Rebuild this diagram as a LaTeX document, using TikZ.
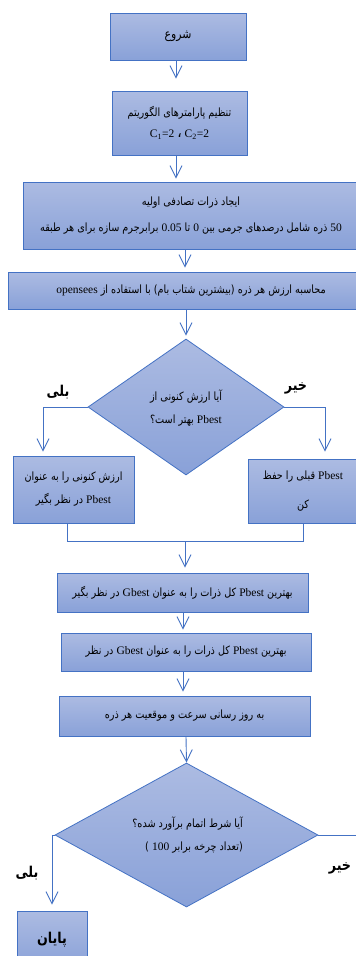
\documentclass[tikz,border=0pt]{standalone}
\usepackage{fontspec}
\setmainfont{Liberation Serif}
\newfontfamily\fa[Script=Arabic,FakeStretch=0.85,Scale=1.42]{DejaVu Sans}
\TeXXeTstate=1
\usetikzlibrary{shapes.geometric,arrows.meta,calc}
\definecolor{lineblue}{RGB}{68,114,196}
\definecolor{topc}{RGB}{172,187,226}
\definecolor{botc}{RGB}{137,161,216}
\newcommand{\fat}[1]{{\fa\beginR #1\endR}}
\newcommand{\latw}[1]{{\rmfamily\fontsize{11.5}{12}\selectfont #1}}
\tikzset{
  box/.style={draw=lineblue, line width=0.8pt, top color=topc, bottom color=botc,
    inner sep=0pt, align=center, font={\fontsize{8}{23}\selectfont}},
  dia/.style={box, shape=diamond},
  ln/.style={draw=lineblue, line width=0.9pt},
  arr/.style={ln, -{Straight Barb[length=12pt,width=12pt,line width=0.9pt]}},
  lbl/.style={font={\fontsize{10.5}{13}\selectfont\fa\bfseries}},
  txt/.style={align=center, inner sep=0pt, font={\fontsize{8}{23}\selectfont}}
}
\begin{document}
\begin{tikzpicture}[x=1pt,y=-1pt]
\fill[white] (0,0) rectangle (356,956);
\useasboundingbox (0,0) rectangle (356,956);
% x positions of vertical connectors
\coordinate (xa) at (176,0);
\coordinate (xb) at (185,0);
\coordinate (xc) at (183,0);
\coordinate (xd) at (186,0);
\coordinate (xy) at (43,0);
\coordinate (xn) at (325,0);
\coordinate (xe) at (52,0);
\coordinate (mL) at (67,541);
\coordinate (mR) at (303,541);
\coordinate (rt) at (362,835);

\node[box, minimum width=136pt, minimum height=47pt, font={\fontsize{9}{12}\selectfont}] (start) at (178,36.5) {\fat{شروع}};
\node[box, minimum width=135pt, minimum height=64pt, font={\fontsize{8}{21}\selectfont}] (params) at (179.5,123)
  {\fat{تنظیم پارامترهای الگوریتم}\\\latw{C\textsubscript{1}=2 {\fa ،} C\textsubscript{2}=2}};
\node[box, minimum width=336pt, minimum height=67pt, font={\fontsize{8}{26}\selectfont}] (init) at (191,215.5)
  {\fat{ایجاد ذرات تصادفی اولیه}\\\fat{\latw{50} ذره شامل درصدهای جرمی بین \latw{0} تا \latw{0.05} برابرجرم سازه برای هر طبقه}};
\node[box, minimum width=366pt, minimum height=37pt] (eval) at (191,290.5)
  {\fat{محاسبه ارزش هر ذره (بیشترین شتاب بام) با استفاده از \latw{opensees}}};

\node[dia, minimum width=196pt, minimum height=136pt] (d1) at (186,407) {};
\node[txt] (d1t) at (186,408) {\fat{آیا ارزش کنونی از}\\\fat{\latw{Pbest} بهتر است؟}};

\node[box, minimum width=121pt, minimum height=67pt] (yes) at (73.5,489.5)
  {\fat{ارزش کنونی را به عنوان}\\\fat{\latw{Pbest} در نظر بگیر}};
\node[box, minimum width=110pt, minimum height=64pt] (no) at (303,491)
  {\fat{\latw{Pbest} قبلی را حفظ}\\[6pt]\fat{کن}};

\node[box, minimum width=251pt, minimum height=39pt] (gb1) at (182.5,592.5)
  {\fat{بهترین \latw{Pbest} کل ذرات را به عنوان \latw{Gbest} در نظر بگیر}};
\node[box, minimum width=250pt, minimum height=38pt] (gb2) at (186,652)
  {\fat{بهترین \latw{Pbest} کل ذرات را به عنوان \latw{Gbest} در نظر}};
\node[box, minimum width=251pt, minimum height=40pt] (upd) at (184.5,716)
  {\fat{به روز رسانی سرعت و موقعیت هر ذره}};

\node[dia, minimum width=263pt, minimum height=144pt] (d2) at (186.5,835) {};
\node[txt, align=right, anchor=east] (d2t) at (243,835)
  {\fat{آیا شرط اتمام برآورد شده؟}\\\fat{(تعداد چرخه برابر \latw{100} )}};

\node[box, minimum width=70pt, minimum height=58pt, font={\fontsize{10.5}{13}\selectfont\fa\bfseries}] (end) at (52,940) {\fat{پایان}};

% labels
\node[lbl] (l1) at (58,392) {\fat{بلی}};
\node[lbl] (l2) at (296,388) {\fat{خیر}};
\node[lbl] (l3) at (27,873) {\fat{بلی}};
\node[lbl] (l4) at (340,868) {\fat{خیر}};

% connectors
\draw[arr, shorten >=12pt] (start.south -| xa) -- (params.north -| xa);
\draw[arr, shorten >=3pt] (params.south -| xa) -- (init.north -| xa);
\draw[arr, shorten >=4pt] (init.south -| xb) -- (eval.north -| xb);
\draw[arr, shorten >=3pt] (eval.south -| xd) -- (d1.north);
\draw[arr, shorten >=4pt] (d1.west) -| (yes.north -| xy);
\draw[arr, shorten >=7pt] (d1.east) -| (no.north -| xn);
\draw[ln] (yes.south -| mL) -- (mL) -- (mR) -- (no.south -| mR);
\draw[arr, shorten >=5pt] (mL -| xb) -- (gb1.north -| xb);
\draw[arr, shorten >=3pt] (gb1.south -| xc) -- (gb2.north -| xc);
\draw[arr, shorten >=4pt] (gb2.south -| xc) -- (upd.north -| xc);
\draw[arr] (upd.south -| xd) -- (d2.north);
\draw[arr, shorten >=6pt] (d2.west) -- (d2.west -| xe) -- (end.north -| xe);
\draw[ln] (d2.east) -- (rt);
\end{tikzpicture}
\end{document}
